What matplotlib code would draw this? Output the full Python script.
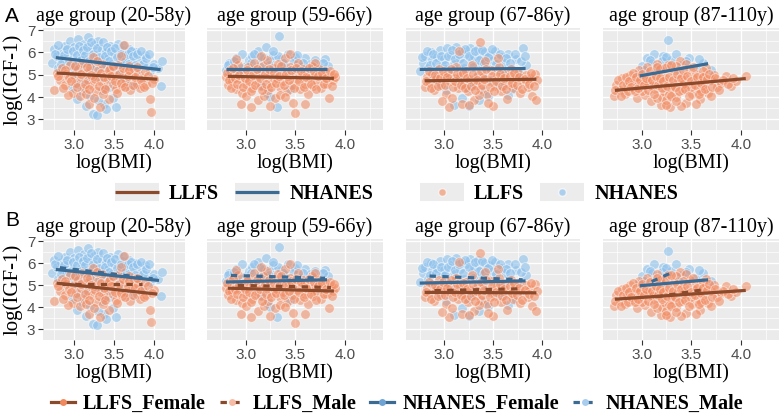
import matplotlib
matplotlib.use("Agg")
import matplotlib.pyplot as plt
from matplotlib.lines import Line2D
from matplotlib.legend_handler import HandlerTuple
from matplotlib.font_manager import FontProperties

# ---------------- data ----------------
PANEL_TITLES = ["age group (20-58y)", "age group (59-66y)", "age group (67-86y)", "age group (87-110y)"]
X_TICKS = [3.0, 3.5, 4.0]
Y_TICKS = [3, 4, 5, 6, 7]
GROUPS = ["LLFS", "NHANES"]
SEX_GROUPS = ["LLFS_Female", "LLFS_Male", "NHANES_Female", "NHANES_Male"]

NHANES_P1 = [(2.72,5.55),(2.75,6.15),(2.78,5.85),(2.80,5.30),(2.83,6.05),(2.85,5.70),(2.88,6.30),(2.90,5.45),
    (2.92,5.95),(2.95,6.50),(2.97,5.20),(2.98,5.75),(3.00,6.25),(3.02,4.95),(3.03,5.60),(3.05,6.62),(3.07,5.35),
    (3.08,6.00),(3.10,5.80),(3.12,6.40),(3.13,4.70),(3.15,5.55),(3.17,6.68),(3.18,5.15),(3.20,6.10),(3.22,5.70),
    (3.23,3.25),(3.25,6.35),(3.27,5.45),(3.28,5.90),(3.30,6.52),(3.32,4.85),(3.33,5.65),(3.35,6.15),(3.37,3.70),
    (3.38,5.30),(3.40,6.00),(3.42,5.75),(3.43,4.45),(3.45,6.30),(3.47,5.50),(3.48,3.95),(3.50,5.95),(3.52,3.55),
    (3.53,5.25),(3.55,6.40),(3.57,5.70),(3.58,4.95),(3.60,6.10),(3.62,5.45),(3.64,5.85),(3.66,4.60),(3.68,6.15),
    (3.70,5.35),(3.72,5.70),(3.75,4.50),(3.77,6.00),(3.80,5.25),(3.82,5.65),(3.85,4.80),(3.88,5.90),(3.92,5.40),
    (3.95,5.15),(4.00,5.50),(4.05,5.30),(4.10,5.60),(4.08,4.50),(3.03,3.90),(3.10,4.25),(3.15,3.60),(3.20,4.05),
    (3.28,3.20),(3.30,3.85),(3.40,3.45),(2.97,4.40),(3.35,4.30),
    (2.76,5.95),(2.80,6.35),(2.84,5.50),(2.87,5.90),(2.91,6.15),(2.94,5.60),(2.99,6.05),(3.01,5.45),(3.04,5.90),
    (3.06,6.30),(3.09,5.65),(3.11,6.10),(3.14,5.90),(3.16,6.25),(3.19,5.60),(3.21,6.45),(3.24,5.95),(3.26,5.25),
    (3.29,6.20),(3.31,5.80),(3.34,5.40),(3.36,6.45),(3.39,5.85),(3.41,6.25),(3.44,5.60),(3.46,6.05),(3.49,5.35),
    (3.51,6.20),(3.54,5.80),(3.56,5.05),(3.59,5.95),(3.61,6.35),(3.63,5.60),(3.67,5.95),(3.69,5.50),(3.71,6.05),
    (3.74,5.85),(3.76,5.45),(3.79,5.95),(3.83,6.05),(3.86,5.50),(3.90,5.75),(3.94,5.95),(3.98,5.35),(3.05,4.60),
    (3.22,4.90),(3.45,4.80),(3.60,4.75)]
LLFS_P1 = [(2.75,4.30),(2.78,5.10),(2.82,4.75),(2.85,5.30),(2.88,4.55),(2.90,5.05),(2.93,4.85),(2.95,5.45),
    (2.98,4.20),(3.00,5.00),(3.02,4.65),(3.05,5.25),(3.07,4.05),(3.08,4.90),(3.10,5.55),(3.12,4.40),(3.15,5.10),
    (3.17,4.75),(3.18,3.70),(3.20,5.35),(3.22,4.55),(3.24,5.80),(3.25,4.95),(3.27,4.25),(3.30,5.20),(3.32,3.55),
    (3.33,4.70),(3.35,5.50),(3.38,4.45),(3.40,5.05),(3.42,4.80),(3.44,3.90),(3.45,5.30),(3.48,4.60),(3.50,5.00),
    (3.52,4.35),(3.55,5.45),(3.57,4.85),(3.58,5.85),(3.60,4.50),(3.62,6.35),(3.63,5.15),(3.65,4.70),(3.68,5.40),
    (3.70,4.30),(3.72,4.95),(3.75,5.25),(3.78,4.60),(3.80,5.05),(3.82,4.40),(3.85,4.85),(3.88,5.15),(3.90,4.55),
    (3.95,3.90),(3.96,3.35),(4.00,4.80),(3.15,4.15),(3.25,3.95),(2.92,4.10),(3.36,4.15),
    (2.80,4.95),(2.86,4.40),(2.89,5.20),(2.96,4.70),(3.01,5.40),(3.04,4.45),(3.09,5.05),(3.13,4.60),(3.16,5.35),
    (3.19,4.35),(3.21,5.00),(3.26,4.80),(3.28,5.60),(3.31,4.50),(3.34,5.10),(3.37,4.90),(3.39,4.35),(3.43,5.20),
    (3.46,4.95),(3.49,5.40),(3.51,4.70),(3.54,4.20),(3.56,5.05),(3.59,4.65),(3.61,5.30),(3.64,4.45),(3.67,4.95),
    (3.69,5.20),(3.73,4.55),(3.76,4.90),(3.79,5.35),(3.83,4.75),(3.87,4.45),(3.92,4.95),(3.97,4.65)]
NHANES_P2 = [(2.80,5.20),(2.83,5.55),(2.86,5.35),(2.90,5.75),(2.93,5.10),(2.96,5.95),(3.00,5.40),(3.03,5.65),
    (3.06,5.85),(3.10,5.25),(3.12,6.05),(3.15,5.50),(3.18,5.75),(3.20,6.25),(3.22,4.20),(3.25,5.60),(3.28,5.90),
    (3.30,5.30),(3.32,3.55),(3.34,6.75),(3.36,5.70),(3.40,5.45),(3.43,5.95),(3.46,5.20),(3.50,5.80),(3.53,5.55),
    (3.56,5.35),(3.60,5.75),(3.65,5.50),(3.70,5.65),(3.75,5.30),(3.80,5.70),(3.83,5.40),(3.25,4.00),(3.15,4.55),
    (3.45,4.35),(2.82,5.45),(2.88,5.60),(2.95,5.30),(3.05,5.55),(3.14,5.80),(3.24,5.45),(3.33,5.85),(3.38,5.55),
    (3.48,5.65),(3.58,5.55),(3.68,5.35),(3.78,5.55),(3.08,5.95),(3.28,6.05),(3.52,5.90)]
LLFS_P2 = [(2.80,4.90),(2.82,4.55),(2.84,5.20),(2.86,4.70),(2.88,5.05),(2.90,4.35),(2.92,5.45),(2.94,4.80),
    (2.96,4.20),(2.98,5.10),(3.00,4.60),(3.02,5.35),(3.04,4.95),(3.06,4.40),(3.08,5.55),(3.10,4.75),(3.12,3.85),
    (3.13,5.15),(3.15,4.50),(3.17,5.40),(3.18,4.05),(3.20,4.90),(3.22,5.65),(3.23,4.30),(3.25,5.00),(3.27,4.65),
    (3.28,5.30),(3.30,3.95),(3.32,4.85),(3.33,5.50),(3.35,4.45),(3.37,5.15),(3.38,4.70),(3.40,5.75),(3.42,4.25),
    (3.43,4.95),(3.45,5.35),(3.47,4.55),(3.48,3.75),(3.50,5.05),(3.52,4.80),(3.53,5.55),(3.55,4.35),(3.57,4.95),
    (3.58,5.25),(3.60,4.60),(3.62,5.10),(3.63,4.15),(3.65,4.85),(3.67,5.40),(3.68,4.50),(3.70,5.00),(3.72,4.70),
    (3.74,5.25),(3.76,4.40),(3.78,4.90),(3.80,5.15),(3.82,4.60),(3.84,3.95),(3.86,4.95),(3.88,4.75),(3.90,4.90),
    (3.05,3.55),(3.50,3.30),(2.95,3.70),(3.35,4.10),(3.15,5.85),(3.45,5.95),(3.60,3.70),(3.25,3.60),(2.90,5.70),
    (3.70,5.55),(3.40,4.00),(3.00,4.05),
    (2.81,5.10),(2.83,4.75),(2.85,4.40),(2.87,5.30),(2.89,4.85),(2.91,4.60),(2.93,5.00),(2.97,4.45),(2.99,4.85),
    (3.01,5.20),(3.03,4.70),(3.05,4.25),(3.07,5.00),(3.09,4.55),(3.11,5.25),(3.14,4.85),(3.16,4.30),(3.19,5.05),
    (3.21,4.60),(3.24,5.25),(3.26,4.45),(3.29,5.10),(3.31,4.65),(3.34,4.95),(3.36,5.40),(3.39,4.55),(3.41,5.05),
    (3.44,4.75),(3.46,5.20),(3.49,4.40),(3.51,5.30),(3.54,4.70),(3.56,5.15),(3.59,4.45),(3.61,4.90),(3.64,5.30),
    (3.66,4.60),(3.69,5.15),(3.71,4.35),(3.73,4.95),(3.77,5.10),(3.79,4.60),(3.81,4.85),(3.85,5.15),(3.87,4.50),
    (3.89,5.05)]
NHANES_P3 = [(2.75,5.15),(2.78,5.55),(2.80,5.85),(2.83,5.30),(2.86,6.00),(2.88,5.65),(2.90,4.95),(2.93,5.80),
    (2.96,6.10),(2.98,5.40),(3.00,5.70),(3.03,6.20),(3.05,5.05),(3.07,5.90),(3.10,5.50),(3.12,6.25),(3.14,4.65),
    (3.16,5.75),(3.18,6.05),(3.20,5.30),(3.22,5.95),(3.24,4.40),(3.26,6.20),(3.28,5.60),(3.30,5.85),(3.32,4.90),
    (3.34,6.15),(3.36,5.45),(3.38,5.75),(3.40,4.25),(3.42,6.00),(3.44,5.35),(3.46,5.90),(3.48,4.75),(3.50,5.65),
    (3.52,6.05),(3.55,5.20),(3.58,5.80),(3.60,4.50),(3.62,5.55),(3.65,5.95),(3.68,5.30),(3.70,4.35),(3.73,5.70),
    (3.76,5.10),(3.80,6.20),(3.83,5.45),(3.10,3.65),(3.18,3.95),(3.25,3.60),(3.02,4.30),(3.45,4.05),(3.55,4.55),
    (2.95,4.60),(3.35,3.85),(3.65,4.10),
    (2.77,5.80),(2.82,6.05),(2.85,5.45),(2.89,5.95),(2.92,5.55),(2.97,5.85),(3.01,5.45),(3.04,5.85),(3.08,6.10),
    (3.11,5.70),(3.15,5.95),(3.19,5.55),(3.21,6.15),(3.25,5.85),(3.29,5.35),(3.31,6.05),(3.35,5.65),(3.39,6.10),
    (3.41,5.55),(3.45,5.80),(3.49,6.15),(3.53,5.50),(3.57,5.95),(3.63,5.75),(3.67,5.55),(3.72,5.95),(3.78,5.60),
    (3.82,5.85),(3.13,4.85),(3.40,4.95),(3.60,5.05),(3.28,4.50)]
LLFS_P3 = [(2.80,4.45),(2.82,4.90),(2.85,4.65),(2.88,5.05),(2.90,4.30),(2.92,4.80),(2.95,5.25),(2.97,4.55),
    (3.00,4.95),(3.02,4.15),(3.04,5.10),(3.06,4.70),(3.08,3.95),(3.10,4.85),(3.12,5.35),(3.14,4.40),(3.16,4.95),
    (3.18,3.70),(3.20,4.60),(3.22,5.15),(3.24,4.25),(3.26,4.80),(3.28,5.45),(3.30,3.85),(3.32,4.55),(3.34,5.00),
    (3.36,6.45),(3.38,4.35),(3.40,4.90),(3.42,5.60),(3.44,4.15),(3.46,4.70),(3.48,5.20),(3.50,3.60),(3.52,4.50),
    (3.54,4.95),(3.56,5.35),(3.58,4.25),(3.60,4.75),(3.62,5.05),(3.64,3.90),(3.66,4.60),(3.68,5.25),(3.70,4.40),
    (3.72,4.85),(3.75,5.10),(3.77,4.20),(3.80,4.70),(3.83,5.00),(3.85,4.45),(3.88,4.85),(3.90,4.05),(3.93,5.05),
    (3.95,4.75),(3.94,3.85),(3.05,3.55),(3.25,3.65),(3.45,3.75),(3.15,6.05),(3.55,5.75),(2.98,3.80),(3.35,4.10),
    (2.81,4.70),(2.84,5.15),(2.87,4.40),(2.91,5.00),(2.94,4.50),(2.96,4.85),(2.99,5.15),(3.01,4.55),(3.03,4.90),
    (3.07,5.25),(3.09,4.45),(3.11,4.70),(3.13,5.05),(3.17,4.55),(3.19,5.10),(3.21,4.40),(3.23,4.85),(3.27,4.50),
    (3.29,5.05),(3.31,4.30),(3.33,4.75),(3.37,5.15),(3.39,4.55),(3.41,4.80),(3.43,5.25),(3.47,4.45),(3.49,4.95),
    (3.51,4.25),(3.53,4.70),(3.57,5.05),(3.59,4.50),(3.61,4.85),(3.63,4.35),(3.67,4.95),(3.69,4.65),(3.71,5.10),
    (3.74,4.55),(3.76,4.90),(3.79,4.35),(3.82,4.80),(3.86,4.60),(3.89,5.10),(3.92,4.50)]
NHANES_P4 = [(2.97,5.05),(3.00,5.40),(3.05,5.75),(3.10,5.55),(3.12,5.95),(3.18,5.30),(3.22,5.85),(3.27,6.55),
    (3.30,5.65),(3.35,5.95),(3.40,5.45),(3.48,5.75),(3.55,5.35),(3.62,5.55),(3.70,5.20),(3.15,5.15),(3.38,5.20),
    (3.02,5.20),(3.08,5.65),(3.20,5.60),(3.25,5.80),(3.45,5.60),(3.58,5.70)]
LLFS_P4 = [(2.72,4.05),(2.74,4.55),(2.78,4.30),(2.80,4.85),(2.83,4.15),(2.85,4.60),(2.88,5.00),(2.90,4.35),
    (2.92,4.75),(2.95,3.95),(2.97,5.20),(2.99,4.50),(3.01,4.85),(3.03,4.10),(3.05,5.35),(3.07,4.65),(3.09,3.80),
    (3.11,4.95),(3.13,4.35),(3.15,5.50),(3.17,4.70),(3.19,3.65),(3.21,5.05),(3.23,4.25),(3.25,4.85),(3.27,5.45),
    (3.29,3.55),(3.31,4.55),(3.33,5.15),(3.35,4.00),(3.37,4.75),(3.39,5.60),(3.41,4.30),(3.43,4.95),(3.45,3.75),
    (3.47,4.60),(3.49,5.25),(3.51,4.15),(3.53,4.80),(3.55,5.05),(3.57,4.40),(3.59,3.90),(3.61,4.90),(3.63,4.55),
    (3.65,5.30),(3.67,4.20),(3.70,4.75),(3.73,5.00),(3.76,4.45),(3.80,4.65),(3.85,4.95),(3.90,4.50),(3.95,4.70),
    (4.05,4.95),(3.00,4.25),(3.10,4.50),(3.20,4.00),(3.30,4.40),(3.40,3.60),(3.50,4.45),(3.60,4.25),(3.25,3.85),
    (3.35,5.40),(3.05,4.70),(3.15,3.95),(3.45,5.50),(3.55,3.70),(3.70,4.05),(2.95,4.65),(3.18,5.25),(3.42,4.60),
    (3.28,4.15),(3.62,5.15),
    (2.73,4.30),(2.76,4.75),(2.79,4.05),(2.81,4.55),(2.84,4.90),(2.86,4.25),(2.87,4.70),(2.89,4.45),(2.91,5.10),
    (2.93,4.25),(2.94,4.90),(2.96,4.40),(2.98,4.75),(3.00,5.05),(3.02,4.55),(3.04,4.85),(3.06,4.30),(3.08,5.15),
    (3.10,4.75),(3.12,4.15),(3.14,4.95),(3.16,4.55),(3.18,4.85),(3.20,4.40),(3.22,4.70),(3.24,5.30),(3.26,4.50),
    (3.28,4.90),(3.30,4.05),(3.32,4.75),(3.34,4.45),(3.36,5.05),(3.38,4.25),(3.40,4.85),(3.42,5.20),(3.44,4.35),
    (3.46,4.95),(3.48,4.05),(3.50,4.70),(3.52,5.35),(3.54,4.55),(3.56,4.90),(3.58,4.15),(3.60,4.65),(3.62,4.90),
    (3.64,4.35),(3.66,4.80),(3.68,5.05),(3.71,4.45),(3.74,4.85),(3.78,4.30),(3.82,4.75),(3.87,4.60),(3.92,4.85),
    (3.25,3.65),(3.35,3.80),(3.15,5.35),(3.30,5.45)]

LLFS_POINTS = [LLFS_P1, LLFS_P2, LLFS_P3, LLFS_P4]
NHANES_POINTS = [NHANES_P1, NHANES_P2, NHANES_P3, NHANES_P4]

# fitted lines (x start, x end, y start, y end) per panel
LLFS_FIT = [(2.78, 4.04, 5.08, 4.80), (2.82, 3.89, 4.93, 4.84), (2.80, 3.94, 4.73, 4.80), (2.73, 4.05, 4.30, 4.83)]
NHANES_FIT = [(2.77, 4.08, 5.77, 5.23), (2.80, 3.82, 5.28, 5.28), (2.75, 3.83, 5.24, 5.28), (2.98, 3.67, 4.95, 5.50)]
LLFS_F_FIT = [(2.78, 4.04, 5.10, 4.60), (2.82, 3.89, 4.87, 4.74), (2.80, 3.94, 4.68, 4.66), (2.73, 4.05, 4.37, 4.77)]
LLFS_M_FIT = [(2.85, 3.85, 5.05, 5.05), (2.92, 3.86, 5.00, 4.90), (2.90, 3.75, 4.76, 4.84), (3.15, 3.62, 4.48, 4.80)]
NHANES_F_FIT = [(2.77, 4.06, 5.72, 5.22), (2.80, 3.82, 5.15, 5.25), (2.75, 3.83, 5.10, 5.20), (2.98, 3.67, 4.98, 5.25)]
NHANES_M_FIT = [(2.82, 3.98, 5.80, 5.30), (2.85, 3.80, 5.45, 5.32), (2.85, 3.80, 5.42, 5.25), (3.10, 3.31, 5.17, 5.59)]

# ---------------- style ----------------
BROWN = "#8B4A2B"
BLUE = "#3B6A93"
SALMON = "#F28A60"
LIGHTBLUE = "#8CC0EC"
SERIF = "Liberation Serif"
SANS = "Liberation Sans"
W, H = 780, 416

fig = plt.figure(figsize=(W / 100, H / 100), dpi=100)
fig.patch.set_facecolor("white")


def px_axes(l, t, r, b):
    return fig.add_axes([l / W, 1 - b / H, (r - l) / W, (b - t) / H])


COLS = [(43, 185), (207, 383), (406, 580), (603, 779)]
ROWS = [(28, 130), (239, 340)]


def style_axes(ax, first):
    ax.set_facecolor("#EBEBEB")
    for s in ax.spines.values():
        s.set_visible(False)
    ax.set_xlim(2.61, 4.385)
    ax.set_ylim(2.52, 7.1)
    ax.set_xticks(X_TICKS)
    ax.set_xticklabels([f"{v:.1f}" for v in X_TICKS])
    ax.set_xticks([2.75, 3.25, 3.75, 4.25], minor=True)
    ax.set_yticks(Y_TICKS)
    ax.set_yticks([3.5, 4.5, 5.5, 6.5], minor=True)
    ax.grid(which="major", color="white", lw=1.0)
    ax.grid(which="minor", color="white", lw=0.5)
    ax.set_axisbelow(True)
    ax.tick_params(which="major", length=3.5, width=0.8, color="#333333",
                   labelsize=11, labelcolor="#4D4D4D", pad=2)
    ax.tick_params(which="minor", length=0)
    for lab in ax.get_xticklabels() + ax.get_yticklabels():
        lab.set_family(SANS)
    if first:
        ax.set_ylabel("log(IGF-1)", family=SERIF, fontsize=15, labelpad=3)
    else:
        ax.tick_params(axis="y", which="major", length=0, labelleft=False)
    ax.set_xlabel("log(BMI)", family=SERIF, fontsize=14.5, labelpad=1)


for r, (t, b) in enumerate(ROWS):
    for c, (l, rr) in enumerate(COLS):
        ax = px_axes(l, t, rr, b)
        style_axes(ax, c == 0)
        ax.set_title(PANEL_TITLES[c], family=SERIF, fontsize=14.5, pad=5)
        nx, ny = zip(*NHANES_POINTS[c])
        lx, ly = zip(*LLFS_POINTS[c])
        ax.scatter(nx, ny, s=48, c=LIGHTBLUE, alpha=0.6, edgecolors="white", linewidths=0.6, zorder=2)
        ax.scatter(lx, ly, s=48, c=SALMON, alpha=0.55, edgecolors="white", linewidths=0.6, zorder=3)
        if r == 0:
            for fit, col in ((LLFS_FIT[c], BROWN), (NHANES_FIT[c], BLUE)):
                ax.plot(fit[:2], fit[2:], color=col, lw=2.3, solid_capstyle="butt", zorder=4)
        else:
            for fit, col, ls in ((LLFS_F_FIT[c], BROWN, "-"), (LLFS_M_FIT[c], BROWN, (0, (2, 2))),
                                 (NHANES_F_FIT[c], BLUE, "-"), (NHANES_M_FIT[c], BLUE, (0, (2, 2)))):
                ax.plot(fit[:2], fit[2:], color=col, lw=2.3, ls=ls, solid_capstyle="butt",
                        dash_capstyle="butt", zorder=4)

fig.text(5 / W, 1 - 17 / H, "A", family=SANS, fontsize=15, va="center", ha="left")
fig.text(5 / W, 1 - 220 / H, "B", family=SANS, fontsize=15, va="center", ha="left")

# ---------------- legends ----------------
legprop = FontProperties(family=SERIF, weight="bold", size=14.5)
hmap = {tuple: HandlerTuple(ndivide=1, pad=0)}


def keybg():
    # grey legend-key background drawn as a very thick butt-capped line
    return Line2D([], [], color="#ECECEC", lw=13, solid_capstyle="butt")


line_handles = [(keybg(), Line2D([], [], color=BROWN, lw=2.3, solid_capstyle="butt")),
                (keybg(), Line2D([], [], color=BLUE, lw=2.3, solid_capstyle="butt"))]
pt_handles = [(keybg(), Line2D([], [], ls="none", marker="o", markersize=5.5, markerfacecolor=SALMON,
                               markeredgecolor="white", alpha=0.6)),
              (keybg(), Line2D([], [], ls="none", marker="o", markersize=5.5, markerfacecolor=LIGHTBLUE,
                               markeredgecolor="white", alpha=0.65))]
common = dict(loc="center", frameon=False, prop=legprop, handlelength=2.2, handleheight=0.85,
              handletextpad=0.5, columnspacing=0.8, ncol=2, handler_map=hmap, borderpad=0, borderaxespad=0,
              numpoints=1)
fig.legend(line_handles, GROUPS, bbox_to_anchor=(244 / W, 1 - 194 / H), **common)
fig.legend(pt_handles, GROUPS, bbox_to_anchor=(549 / W, 1 - 194 / H), **common)

sex_handles = [
    Line2D([], [], color=BROWN, lw=2.3, marker="o", markersize=5, markerfacecolor="#F08A5E", markeredgecolor="none"),
    Line2D([], [], color=BROWN, lw=2.3, ls=(0, (2, 2)), marker="o", markersize=5, markerfacecolor="#F7BCA5", markeredgecolor="none"),
    Line2D([], [], color=BLUE, lw=2.3, marker="o", markersize=5, markerfacecolor="#6FA3D3", markeredgecolor="none"),
    Line2D([], [], color=BLUE, lw=2.3, ls=(0, (2, 2)), marker="o", markersize=5, markerfacecolor="#A9CDEF", markeredgecolor="none"),
]
fig.legend(sex_handles, SEX_GROUPS, loc="center", bbox_to_anchor=(397 / W, 1 - 404 / H), ncol=4, frameon=False,
           prop=legprop, handlelength=1.2, numpoints=1, handletextpad=0.4, columnspacing=0.7,
           borderpad=0, borderaxespad=0)

fig.savefig("out.png", dpi=100, facecolor="white")
